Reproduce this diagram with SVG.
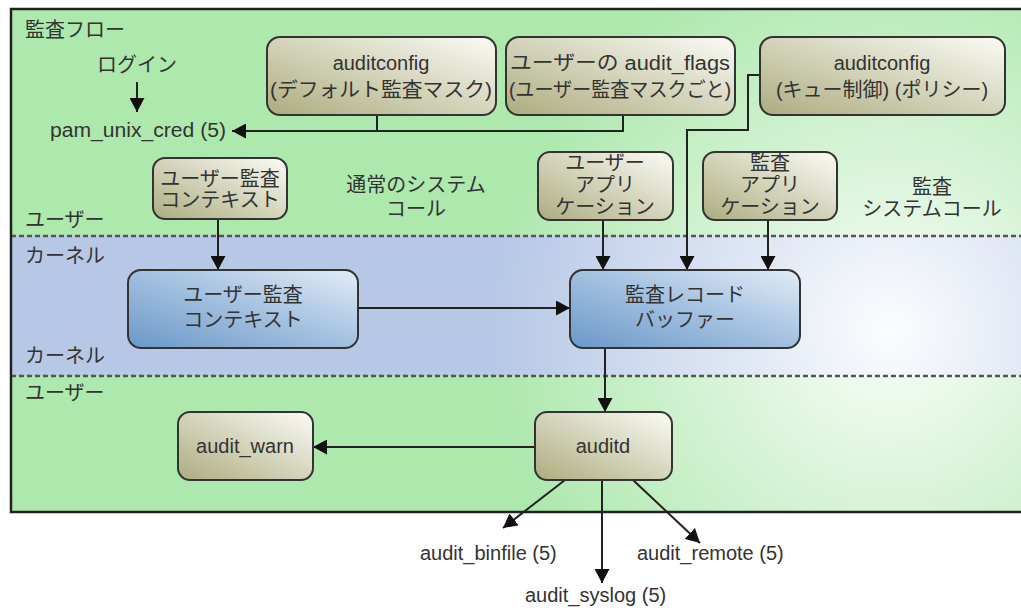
<svg xmlns="http://www.w3.org/2000/svg" width="1021" height="611" viewBox="0 0 1021 611">
<style>
text{font-family:"Liberation Sans","Noto Sans CJK JP",sans-serif;font-size:20px;fill:#333}
.c{text-anchor:middle}
.ol{fill:url(#olive);stroke:#333;stroke-width:2}
.bl{fill:url(#blue);stroke:#333;stroke-width:2}
.ln{fill:none;stroke:#222;stroke-width:2}
.ar{marker-end:url(#ah)}
.dash{stroke:#555;stroke-width:2.5;stroke-dasharray:5,3}
</style>
<defs>
<linearGradient id="olive" x1="0" y1="1" x2="1" y2="0">
<stop offset="0" stop-color="#acac80"/>
<stop offset="0.5" stop-color="#d4d4bb"/>
<stop offset="1" stop-color="#fbfbf6"/>
</linearGradient>
<linearGradient id="blue" x1="0" y1="1" x2="1" y2="0">
<stop offset="0" stop-color="#6a98c8"/>
<stop offset="0.55" stop-color="#a8c4e2"/>
<stop offset="1" stop-color="#e2ecf6"/>
</linearGradient>
<radialGradient id="hl" gradientUnits="userSpaceOnUse" cx="890" cy="330" r="400">
<stop offset="0" stop-color="#fff" stop-opacity="0.95"/>
<stop offset="0.35" stop-color="#fff" stop-opacity="0.6"/>
<stop offset="1" stop-color="#fff" stop-opacity="0"/>
</radialGradient>
<marker id="ah" markerUnits="userSpaceOnUse" markerWidth="15" markerHeight="15" refX="14" refY="7.5" orient="auto">
<path d="M0,0 L14,7.5 L0,15 z" fill="#111"/>
</marker>
</defs>
<g id="background">
<rect x="11" y="9" width="1012" height="227" fill="#ade8ad"/>
<rect x="11" y="236" width="1012" height="140" fill="#b6c8e6"/>
<rect x="11" y="376" width="1012" height="136" fill="#ade8ad"/>
<rect x="11" y="9" width="1012" height="503" fill="url(#hl)"/>
<line x1="11" y1="236" x2="1021" y2="236" class="dash"/>
<line x1="11" y1="376" x2="1021" y2="376" class="dash"/>
<rect x="11" y="9" width="1014" height="503" fill="none" stroke="#222" stroke-width="2.5"/>
</g>
<g id="labels">
<text x="25" y="37">監査フロー</text>
<text x="137" y="72" class="c">ログイン</text>
<text x="50" y="137" textLength="176" lengthAdjust="spacingAndGlyphs">pam_unix_cred (5)</text>
<text x="25" y="227">ユーザー</text>
<text x="416" y="192" class="c">通常のシステム</text>
<text x="416" y="216" class="c">コール</text>
<text x="932" y="194" class="c">監査</text>
<text x="932" y="216" class="c">システムコール</text>
<text x="25" y="263">カーネル</text>
<text x="25" y="363">カーネル</text>
<text x="25" y="400">ユーザー</text>
<text x="420" y="560">audit_binfile (5)</text>
<text x="525" y="602">audit_syslog (5)</text>
<text x="637" y="560">audit_remote (5)</text>
</g>
<g id="connectors">
<path class="ln ar" d="M137,82 V112"/>
<path class="ln ar" d="M623,115 V131 H232"/>
<path class="ln" d="M377,115 V131"/>
<path class="ln ar" d="M760,75 H748 V130 H687 V270"/>
<path class="ln ar" d="M218,219 V270"/>
<path class="ln ar" d="M603,220 V270"/>
<path class="ln ar" d="M768,220 V270"/>
<path class="ln ar" d="M358,308 H570"/>
<path class="ln ar" d="M605,348 V412"/>
<path class="ln ar" d="M535,447 H313"/>
<path class="ln ar" d="M565,480 L503,528"/>
<path class="ln ar" d="M602,480 V583"/>
<path class="ln ar" d="M633,480 L700,543"/>
</g>
<g id="n-auditconfig-default">
<rect x="267" y="37" width="229" height="78" rx="13" class="ol"/>
<text x="381" y="70" class="c">auditconfig</text>
<text x="381" y="97" class="c" textLength="222" lengthAdjust="spacingAndGlyphs">(デフォルト監査マスク)</text>
</g>
<g id="n-user-audit-flags">
<rect x="506" y="37" width="229" height="78" rx="13" class="ol"/>
<text x="620" y="70" class="c" textLength="220" lengthAdjust="spacingAndGlyphs">ユーザーの audit_flags</text>
<text x="620" y="97" class="c" textLength="222" lengthAdjust="spacingAndGlyphs">(ユーザー監査マスクごと)</text>
</g>
<g id="n-auditconfig-queue">
<rect x="760" y="37" width="245" height="78" rx="13" class="ol"/>
<text x="882" y="70" class="c">auditconfig</text>
<text x="882" y="97" class="c">(キュー制御) (ポリシー)</text>
</g>
<g id="n-user-context-top">
<rect x="153" y="158" width="134" height="61" rx="12" class="ol"/>
<text x="220" y="186" class="c">ユーザー監査</text>
<text x="220" y="207" class="c">コンテキスト</text>
</g>
<g id="n-user-app">
<rect x="538" y="152" width="135" height="68" rx="12" class="ol"/>
<text x="605" y="170" class="c">ユーザー</text>
<text x="605" y="192" class="c">アプリ</text>
<text x="605" y="214" class="c">ケーション</text>
</g>
<g id="n-audit-app">
<rect x="703" y="152" width="134" height="68" rx="12" class="ol"/>
<text x="770" y="170" class="c">監査</text>
<text x="770" y="192" class="c">アプリ</text>
<text x="770" y="214" class="c">ケーション</text>
</g>
<g id="n-user-context-kernel">
<rect x="128" y="270" width="230" height="78" rx="13" class="bl"/>
<text x="243" y="302" class="c">ユーザー監査</text>
<text x="243" y="327" class="c">コンテキスト</text>
</g>
<g id="n-audit-buffer">
<rect x="570" y="270" width="230" height="78" rx="13" class="bl"/>
<text x="685" y="302" class="c">監査レコード</text>
<text x="685" y="327" class="c">バッファー</text>
</g>
<g id="n-audit-warn">
<rect x="178" y="412" width="135" height="68" rx="12" class="ol"/>
<text x="245" y="453" class="c">audit_warn</text>
</g>
<g id="n-auditd">
<rect x="535" y="412" width="137" height="68" rx="12" class="ol"/>
<text x="603" y="453" class="c">auditd</text>
</g>
</svg>
